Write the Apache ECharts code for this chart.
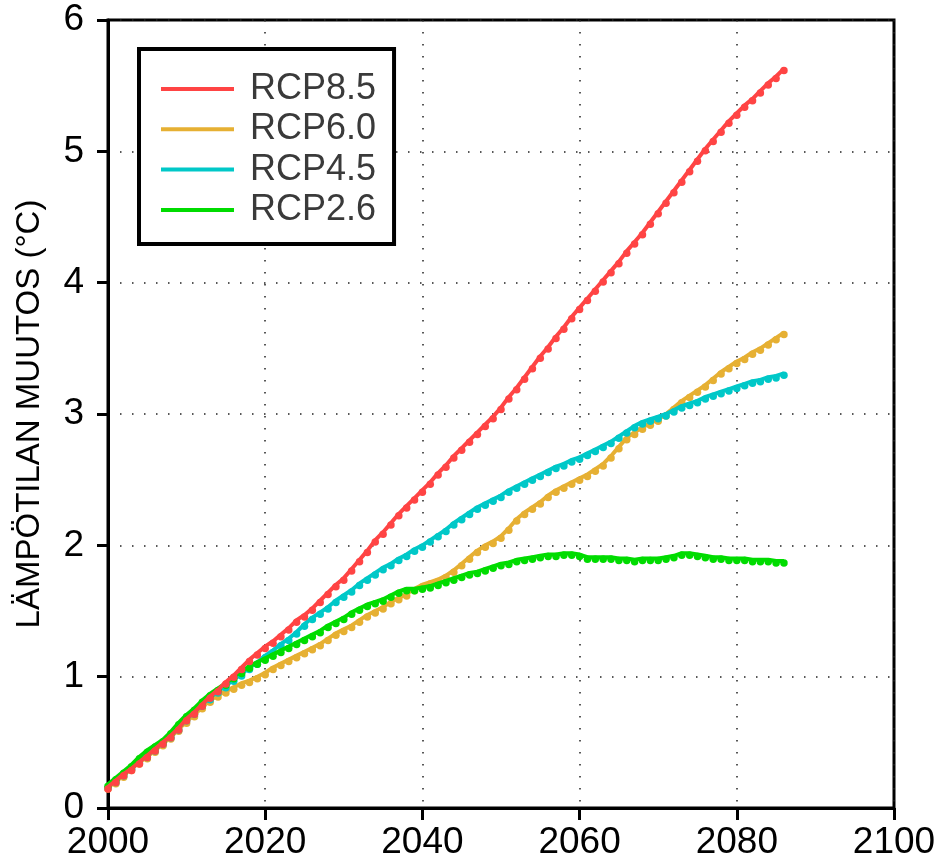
<!DOCTYPE html>
<html>
<head>
<meta charset="utf-8">
<script src="https://cdn.jsdelivr.net/npm/echarts@6/dist/echarts.min.js"></script>
<style>
html,body{margin:0;padding:0;background:#fff;}
#c{width:944px;height:863px;}
</style>
</head>
<body>
<div id="c"></div>
<script>
var startYear = 2000;
var endYear = 2086;
var seriesNames = ['RCP8.5', 'RCP6.0', 'RCP4.5', 'RCP2.6'];
var xTicks = [2000, 2020, 2040, 2060, 2080, 2100];
var yTicks = [0, 1, 2, 3, 4, 5, 6];

var rcp85 = [0.16,0.21,0.26,0.30,0.35,0.40,0.45,0.50,0.55,0.61,
0.68,0.73,0.79,0.85,0.90,0.96,1.01,1.07,1.13,1.18,
1.23,1.27,1.32,1.37,1.43,1.47,1.52,1.58,1.64,1.70,
1.75,1.82,1.89,1.96,2.04,2.10,2.17,2.24,2.30,2.36,
2.42,2.48,2.55,2.61,2.68,2.74,2.80,2.86,2.92,2.98,
3.05,3.13,3.20,3.28,3.36,3.44,3.51,3.59,3.66,3.74,
3.81,3.88,3.95,4.02,4.09,4.16,4.24,4.31,4.38,4.46,
4.54,4.62,4.70,4.78,4.86,4.94,5.02,5.09,5.16,5.23,
5.29,5.35,5.40,5.46,5.52,5.57,5.63];

var rcp60 = [0.16,0.20,0.25,0.30,0.35,0.39,0.44,0.49,0.54,0.60,
0.66,0.71,0.77,0.82,0.86,0.89,0.92,0.95,0.97,1.00,
1.03,1.07,1.10,1.13,1.16,1.19,1.22,1.25,1.29,1.33,
1.36,1.39,1.43,1.47,1.50,1.53,1.57,1.60,1.63,1.67,
1.70,1.72,1.74,1.77,1.81,1.86,1.91,1.96,2.00,2.03,
2.07,2.13,2.20,2.25,2.29,2.33,2.38,2.42,2.45,2.48,
2.51,2.54,2.58,2.62,2.68,2.75,2.82,2.86,2.90,2.93,
2.96,3.00,3.05,3.10,3.14,3.18,3.22,3.27,3.32,3.36,
3.40,3.43,3.47,3.50,3.54,3.58,3.62];

var rcp45 = [0.17,0.21,0.26,0.31,0.36,0.40,0.45,0.50,0.55,0.61,
0.68,0.73,0.79,0.84,0.89,0.93,0.98,1.02,1.07,1.11,
1.16,1.20,1.25,1.29,1.34,1.40,1.45,1.49,1.53,1.58,
1.62,1.66,1.71,1.75,1.79,1.83,1.86,1.90,1.93,1.97,
2.00,2.04,2.08,2.12,2.17,2.21,2.25,2.29,2.32,2.35,
2.38,2.42,2.45,2.48,2.51,2.54,2.57,2.60,2.62,2.65,
2.67,2.70,2.73,2.76,2.79,2.83,2.87,2.91,2.94,2.96,
2.98,3.00,3.03,3.06,3.08,3.10,3.13,3.15,3.17,3.19,
3.21,3.23,3.25,3.26,3.28,3.29,3.31];

var rcp26 = [0.18,0.23,0.28,0.33,0.39,0.44,0.48,0.52,0.58,0.65,
0.71,0.76,0.82,0.87,0.91,0.95,1.00,1.04,1.08,1.11,
1.14,1.17,1.20,1.23,1.26,1.29,1.32,1.35,1.39,1.42,
1.45,1.49,1.52,1.55,1.57,1.59,1.62,1.65,1.67,1.67,
1.68,1.69,1.71,1.73,1.75,1.77,1.79,1.80,1.82,1.84,
1.86,1.87,1.89,1.90,1.91,1.92,1.93,1.93,1.94,1.94,
1.93,1.91,1.91,1.91,1.91,1.90,1.90,1.89,1.90,1.90,
1.90,1.91,1.92,1.94,1.94,1.93,1.92,1.91,1.91,1.90,
1.90,1.90,1.89,1.89,1.89,1.88,1.88];

var colors = ['#ff4444', '#e6b033', '#00c8c8', '#00dc00'];
var values = [rcp85, rcp60, rcp45, rcp26];
var zs = [6, 3, 4, 5];

function pairs(arr) {
  var out = [];
  for (var i = 0; i < arr.length; i++) out.push([startYear + i, arr[i]]);
  return out;
}

var FONT = '"Liberation Sans", Arial, sans-serif';

var series = seriesNames.map(function (n, i) {
  return {
    name: n,
    type: 'line',
    data: pairs(values[i]),
    z: zs[i],
    symbol: 'circle',
    symbolSize: 7.5,
    symbolOffset: [0, 2],
    showSymbol: true,
    lineStyle: { color: colors[i], width: 4 },
    itemStyle: { color: colors[i] },
    emphasis: { disabled: true },
    animation: false
  };
});

var chart = echarts.init(document.getElementById('c'), null, { renderer: 'canvas' });
chart.setOption({
  backgroundColor: '#fff',
  animation: false,
  grid: {
    left: 108, right: 50, top: 20, bottom: 55,
    show: true, borderColor: '#000', borderWidth: 3, backgroundColor: 'transparent'
  },
  legend: {
    orient: 'vertical',
    left: 139, top: 49,
    padding: [22, 18, 16, 22],
    borderColor: '#000', borderWidth: 4,
    backgroundColor: '#fff',
    itemWidth: 73, itemHeight: 4, itemGap: 4.3,
    icon: 'rect',
    data: seriesNames,
    selectedMode: false,
    textStyle: { fontFamily: FONT, fontSize: 36, color: '#3a3a3a', padding: [0, 0, 0, 11] }
  },
  xAxis: {
    type: 'value',
    min: xTicks[0], max: xTicks[xTicks.length - 1], interval: 20,
    axisLine: { lineStyle: { color: '#000', width: 3 } },
    axisTick: { inside: false, length: 12, lineStyle: { color: '#000', width: 3 } },
    axisLabel: { fontFamily: FONT, fontSize: 37, color: '#000', margin: 16,
      formatter: function (v) { return String(v); } },
    splitLine: { show: true, lineStyle: { color: '#222', width: 1.5, type: [1.5, 10.5] } }
  },
  yAxis: {
    type: 'value',
    min: yTicks[0], max: yTicks[yTicks.length - 1], interval: 1,
    name: 'LÄMPÖTILAN MUUTOS (°C)',
    nameLocation: 'middle', nameRotate: 90, nameGap: 62,
    nameTextStyle: { fontFamily: FONT, fontSize: 33, color: '#000' },
    axisLine: { show: true, lineStyle: { color: '#000', width: 3 } },
    axisTick: { show: true, inside: false, length: 11, lineStyle: { color: '#000', width: 3 } },
    axisLabel: { fontFamily: FONT, fontSize: 37, color: '#000', margin: 24 },
    splitLine: { show: true, lineStyle: { color: '#222', width: 1.5, type: [1.5, 10.5] } }
  },
  series: series
});
</script>
</body>
</html>
